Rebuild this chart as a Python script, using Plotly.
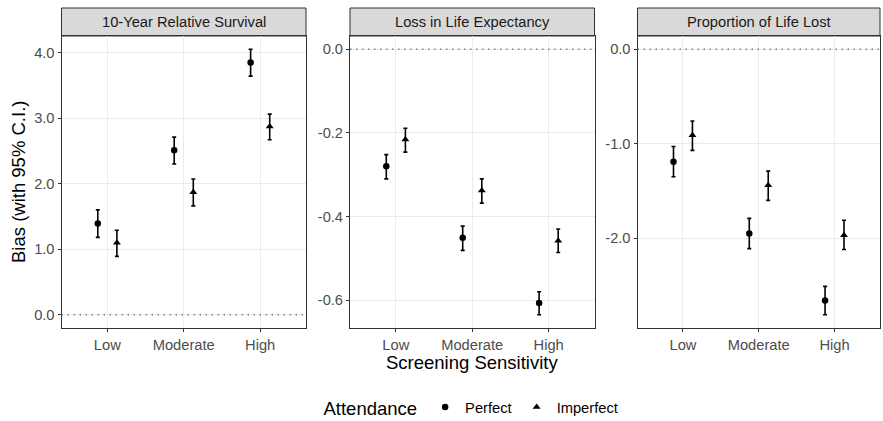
import plotly.graph_objects as go

# Screening sensitivity levels (x categories)
categories = ["Low", "Moderate", "High"]

# Facet titles
panels = ["10-Year Relative Survival", "Loss in Life Expectancy", "Proportion of Life Lost"]

# 10-Year relative survival bias
rs_perfect = [1.39, 2.51, 3.85]
rs_perfect_lo = [1.18, 2.30, 3.64]
rs_perfect_hi = [1.60, 2.71, 4.05]
rs_imperfect = [1.10, 1.87, 2.87]
rs_imperfect_lo = [0.89, 1.66, 2.67]
rs_imperfect_hi = [1.29, 2.07, 3.06]

# Loss in life expectancy bias
lle_perfect = [-0.280, -0.451, -0.607]
lle_perfect_lo = [-0.310, -0.481, -0.635]
lle_perfect_hi = [-0.252, -0.423, -0.580]
lle_imperfect = [-0.216, -0.338, -0.458]
lle_imperfect_lo = [-0.246, -0.368, -0.486]
lle_imperfect_hi = [-0.189, -0.310, -0.430]

# Proportion of life lost bias
pll_perfect = [-1.19, -1.95, -2.66]
pll_perfect_lo = [-1.35, -2.11, -2.81]
pll_perfect_hi = [-1.03, -1.79, -2.51]
pll_imperfect = [-0.91, -1.44, -1.97]
pll_imperfect_lo = [-1.07, -1.60, -2.12]
pll_imperfect_hi = [-0.76, -1.29, -1.81]

# y tick labels per facet
rs_ticks = [0.0, 1.0, 2.0, 3.0, 4.0]
rs_ticktext = ["0.0", "1.0", "2.0", "3.0", "4.0"]
lle_ticks = [0.0, -0.2, -0.4, -0.6]
lle_ticktext = ["0.0", "-0.2", "-0.4", "-0.6"]
pll_ticks = [0.0, -1.0, -2.0]
pll_ticktext = ["0.0", "-1.0", "-2.0"]

groups = ["Perfect", "Imperfect"]
symbols = {"Perfect": "circle", "Imperfect": "triangle-up"}
dodge = {"Perfect": -0.125, "Imperfect": 0.125}

facet_data = [
    {"Perfect": (rs_perfect, rs_perfect_lo, rs_perfect_hi),
     "Imperfect": (rs_imperfect, rs_imperfect_lo, rs_imperfect_hi),
     "ticks": (rs_ticks, rs_ticktext)},
    {"Perfect": (lle_perfect, lle_perfect_lo, lle_perfect_hi),
     "Imperfect": (lle_imperfect, lle_imperfect_lo, lle_imperfect_hi),
     "ticks": (lle_ticks, lle_ticktext)},
    {"Perfect": (pll_perfect, pll_perfect_lo, pll_perfect_hi),
     "Imperfect": (pll_imperfect, pll_imperfect_lo, pll_imperfect_hi),
     "ticks": (pll_ticks, pll_ticktext)},
]

W, H = 883, 421
FONT = "Liberation Sans, Arial, sans-serif"
panel_px = [(61.5, 306), (350, 594.5), (637.5, 880)]
top_px, bottom_px = 36, 328
strip_top_px = 8

fig = go.Figure()

for i, fd in enumerate(facet_data):
    ax = "" if i == 0 else str(i + 1)
    for g in groups:
        est, lo, hi = fd[g]
        fig.add_trace(go.Scatter(
            x=[k + 1 + dodge[g] for k in range(len(categories))],
            y=est,
            mode="markers",
            name=g,
            legendgroup=g,
            showlegend=(i == 0),
            marker=dict(symbol=symbols[g], color="black", size=7 if g == "Imperfect" else 6.5),
            error_y=dict(type="data", symmetric=False,
                         array=[h - e for h, e in zip(hi, est)],
                         arrayminus=[e - l for e, l in zip(est, lo)],
                         color="black", thickness=1.6, width=2),
            xaxis="x" + ax, yaxis="y" + ax,
        ))

    lows = fd["Perfect"][1] + fd["Imperfect"][1]
    highs = fd["Perfect"][2] + fd["Imperfect"][2]
    ymin, ymax = min(0.0, min(lows)), max(0.0, max(highs))
    pad = 0.05 * (ymax - ymin)
    tv, tt = fd["ticks"]

    x0, x1 = panel_px[i]
    fig.update_layout(**{
        "xaxis" + ax: dict(
            domain=[x0 / W, x1 / W], anchor="y" + ax, range=[0.4, 3.6],
            tickvals=[1, 2, 3], ticktext=categories,
            showgrid=True, gridcolor="#EBEBEB", gridwidth=1, zeroline=False,
            showline=True, linecolor="#333333", linewidth=1, mirror=True,
            ticks="outside", ticklen=3, tickcolor="#333333",
            tickfont=dict(family=FONT, size=14.7, color="#4D4D4D"),
        ),
        "yaxis" + ax: dict(
            domain=[1 - bottom_px / H, 1 - top_px / H], anchor="x" + ax,
            range=[ymin - pad, ymax + pad],
            tickvals=tv, ticktext=tt,
            showgrid=True, gridcolor="#EBEBEB", gridwidth=1, zeroline=False,
            showline=True, linecolor="#333333", linewidth=1, mirror=True,
            ticks="outside", ticklen=3, tickcolor="#333333",
            tickfont=dict(family=FONT, size=14.7, color="#4D4D4D"),
        ),
    })

    # reference line at zero bias
    fig.add_shape(type="line", xref="x" + ax + " domain", yref="y" + ax,
                  x0=0, x1=1, y0=0, y1=0,
                  line=dict(color="#7F7F7F", width=1.3, dash="1.5px,4.5px"))

    # facet strip
    fig.add_shape(type="rect", xref="paper", yref="paper",
                  x0=x0 / W, x1=x1 / W, y0=1 - top_px / H, y1=1 - strip_top_px / H,
                  fillcolor="#D9D9D9", line=dict(color="#333333", width=1), layer="below")
    fig.add_annotation(text=panels[i], xref="paper", yref="paper",
                       x=(x0 + x1) / 2 / W, y=1 - (top_px + strip_top_px) / 2 / H,
                       xanchor="center", yanchor="middle", showarrow=False,
                       font=dict(family=FONT, size=14.7, color="#1A1A1A"))

# axis titles
fig.add_annotation(text="Screening Sensitivity", xref="paper", yref="paper",
                   x=472.5 / W, y=1 - 362 / H, xanchor="center", yanchor="middle",
                   showarrow=False, font=dict(family=FONT, size=18.5, color="black"))
fig.add_annotation(text="Bias (with 95% C.I.)", xref="paper", yref="paper",
                   x=18 / W, y=1 - 182 / H, xanchor="center", yanchor="middle",
                   textangle=-90, showarrow=False,
                   font=dict(family=FONT, size=18.5, color="black"))

fig.update_layout(
    width=W, height=H,
    margin=dict(l=0, r=0, t=0, b=0, autoexpand=False),
    paper_bgcolor="white", plot_bgcolor="white",
    font=dict(family=FONT, color="black"),
    showlegend=True,
    legend=dict(
        orientation="h", x=472.5 / W, xanchor="center", y=-5 / H, yanchor="bottom",
        title=dict(text="Attendance", font=dict(family=FONT, size=18.5, color="black")),
        font=dict(family=FONT, size=14.7, color="black"),
        itemwidth=30, bgcolor="rgba(0,0,0,0)", borderwidth=0,
    ),
)

fig.write_html("out.html")
